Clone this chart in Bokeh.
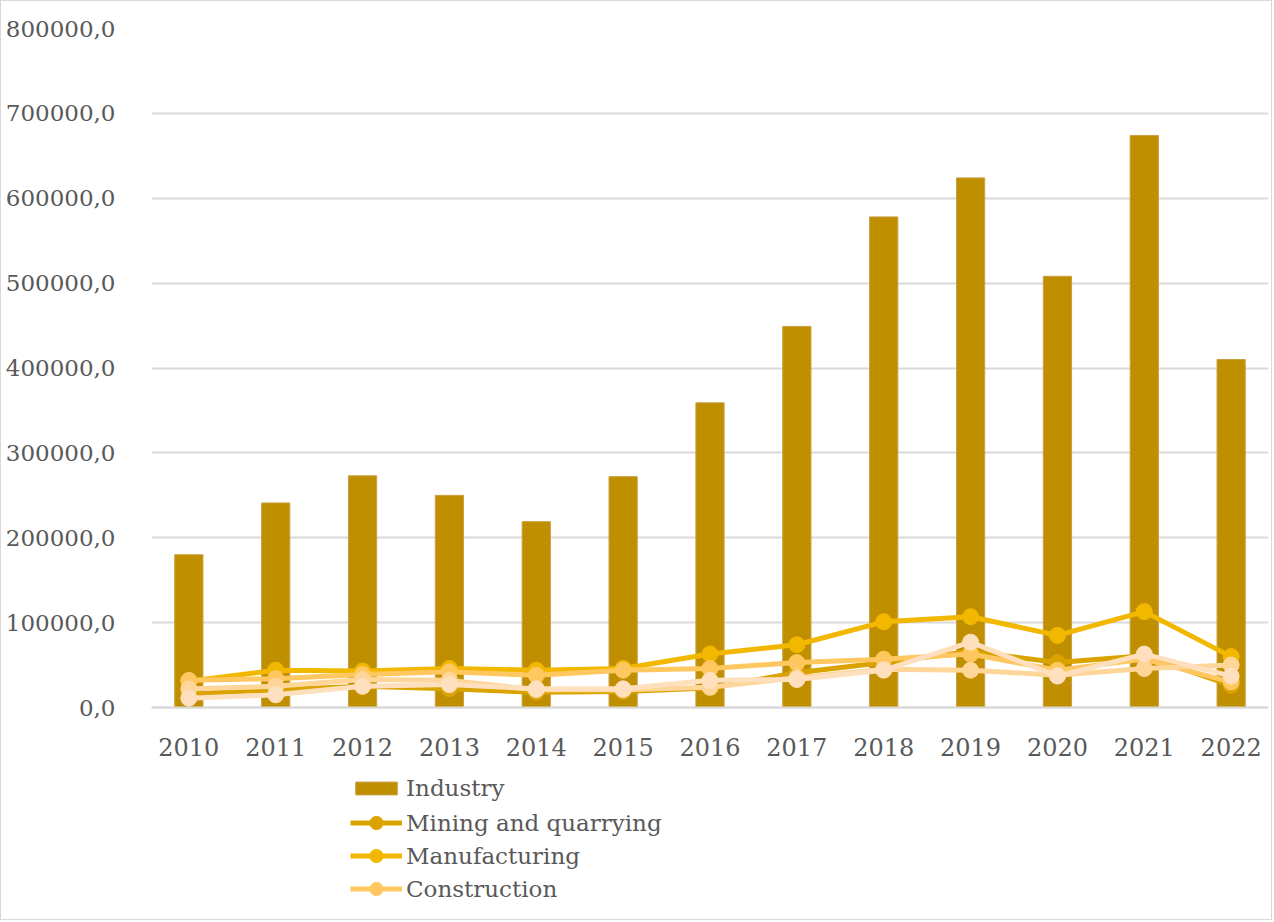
from bokeh.plotting import figure
from bokeh.models import FactorRange, Range1d, Legend, LegendItem, CustomJSTickFormatter, FixedTicker, ColumnDataSource
from bokeh.embed import file_html
from bokeh.resources import INLINE

years = ["2010", "2011", "2012", "2013", "2014", "2015", "2016", "2017", "2018", "2019", "2020", "2021", "2022"]
industry = [180000, 241000, 273000, 250000, 219000, 272000, 359000, 449000, 578000, 624000, 508000, 674000, 410000]
mining = [16000, 21000, 25000, 22000, 18000, 19000, 23000, 41000, 53000, 66000, 53000, 61000, 26000]
manufacturing = [31000, 44000, 43000, 46000, 44000, 46000, 63000, 74000, 101000, 107000, 85000, 113000, 60000]
construction = [32000, 34000, 39000, 42000, 38000, 44000, 46000, 53000, 57000, 63000, 44000, 57000, 30000]
series_d = [22000, 25000, 33000, 32000, 21000, 21000, 24000, 35000, 45000, 44000, 38000, 46000, 50000]
series_e = [11000, 15000, 25000, 27000, 22000, 22000, 32000, 33000, 44000, 77000, 37000, 63000, 37000]

FONT = "DejaVu Serif"
TXT = "#595959"

src = ColumnDataSource(dict(x=years, industry=industry, mining=mining, manufacturing=manufacturing,
                            construction=construction, d=series_d, e=series_e))

p = figure(width=1272, height=920,
           x_range=FactorRange(*years, range_padding=-0.07, range_padding_units="absolute"),
           y_range=Range1d(-252100, 800000), output_backend="svg", toolbar_location=None,
           min_border_left=150, min_border_right=5, min_border_top=27, min_border_bottom=0)
p.outline_line_color = None
p.styles = {"border": "1px solid #D9D9D9"}

bars = p.vbar(x="x", top="industry", width=0.325, source=src, fill_color="#BF8F00", line_color="#C9A040", line_width=1)

line_specs = [("mining", "#DAA300"), ("manufacturing", "#F2B800"), ("construction", "#FFC75F"),
              ("d", "#FFD699"), ("e", "#FFE0BE")]
rends = {}
for col, color in line_specs:
    l = p.line(x="x", y=col, source=src, line_color=color, line_width=5)
    s = p.scatter(x="x", y=col, source=src, size=16, fill_color=color, line_color=color, marker="circle")
    rends[col] = (l, s)

p.yaxis.ticker = FixedTicker(ticks=[i * 100000 for i in range(9)])
p.yaxis.formatter = CustomJSTickFormatter(code="return tick.toFixed(1).replace('.', ',');")
p.yaxis.axis_line_color = None
p.yaxis.major_tick_line_color = None
p.yaxis.minor_tick_line_color = None
p.yaxis.major_label_standoff = 30
p.yaxis.major_label_text_font_size = "23px"
p.xaxis.fixed_location = 0
p.xaxis.axis_line_color = "#D9D9D9"
p.xaxis.axis_line_width = 2
p.xaxis.major_tick_line_color = None
p.xaxis.minor_tick_line_color = None
p.xaxis.major_label_standoff = 24
p.xaxis.major_label_text_font_size = "24px"
for ax in (p.xaxis, p.yaxis):
    ax.major_label_text_font = FONT
    ax.major_label_text_color = TXT
p.xgrid.grid_line_color = None
p.ygrid.grid_line_color = "#D9D9D9"
p.ygrid.grid_line_width = 2


def style_legend(lg):
    lg.padding = 0
    lg.margin = 0
    lg.border_line_color = None
    lg.background_fill_alpha = 0
    lg.glyph_width = 52
    lg.label_standoff = 4
    lg.label_text_font = FONT
    lg.label_text_font_size = "23px"
    lg.label_text_color = TXT


legend1 = Legend(items=[LegendItem(label="Industry", renderers=[bars])],
                 location=(199, 120), orientation="vertical")
style_legend(legend1)
legend1.glyph_height = 16
legend1.label_height = 24
legend1.spacing = 0
p.add_layout(legend1, "center")

legend2 = Legend(items=[
    LegendItem(label="Mining and quarrying", renderers=list(rends["mining"])),
    LegendItem(label="Manufacturing", renderers=list(rends["manufacturing"])),
    LegendItem(label="Construction", renderers=list(rends["construction"])),
], location=(199, 16), orientation="vertical")
style_legend(legend2)
legend2.glyph_height = 33
legend2.label_height = 33
legend2.spacing = 0
p.add_layout(legend2, "center")

open("out.html", "w").write(file_html(p, INLINE))
